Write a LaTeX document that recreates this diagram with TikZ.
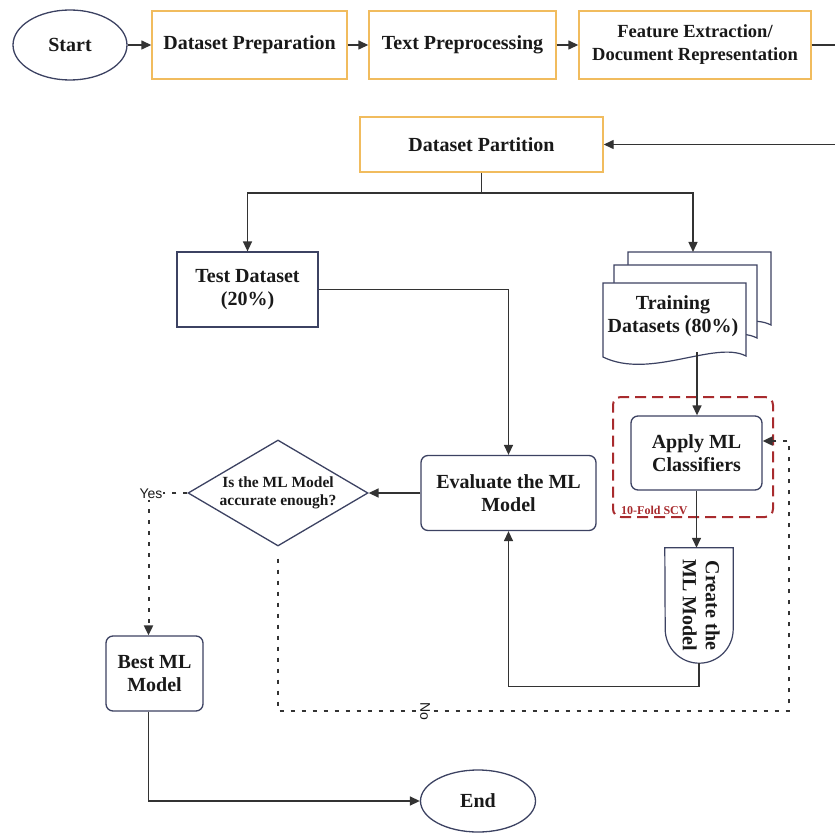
\documentclass[tikz,border=0pt]{standalone}
\usepackage{fontspec}
\setmainfont{Liberation Serif}
\setsansfont{Liberation Sans}
\usetikzlibrary{arrows.meta,shapes.geometric}

\definecolor{boxorange}{HTML}{F1BC5E}
\definecolor{boxnavy}{HTML}{3C4262}
\definecolor{lineg}{HTML}{333333}
\definecolor{cvred}{HTML}{A82B2E}

\begin{document}
\begin{tikzpicture}[
  x=1pt, y=-1pt,
  >={Triangle[length=10pt,width=9pt]},
  every node/.style={font=\fontsize{20}{23}\selectfont\bfseries, align=center, text=black!90},
  term/.style={ellipse, draw=boxnavy, line width=1.3pt, inner sep=0pt},
  stagebox/.style={draw=boxorange, line width=1.4pt, inner sep=0pt},
  databox/.style={draw=boxnavy, line width=1.2pt, inner sep=0pt},
  procbox/.style={draw=boxnavy, line width=1.3pt, rounded corners=7pt, inner sep=0pt},
  decision/.style={diamond, draw=boxnavy, line width=1.3pt, aspect=1.7, inner sep=0pt,
    font=\fontsize{15.5}{18}\selectfont\bfseries},
  arr/.style={->, draw=lineg, line width=1.4pt},
  dotarr/.style={->, draw=lineg, line width=2pt, dash pattern=on 4pt off 7pt},
  cvbox/.style={draw=cvred, line width=2pt, dash pattern=on 11pt off 6pt, rounded corners=8pt},
  branch/.style={font=\sffamily\fontsize{14}{16}\selectfont, fill=white, inner sep=1pt}
]
\useasboundingbox (0,0) rectangle (835,834);
\fill[white] (0,0) rectangle (835,834);

% top row
\node[term, minimum width=114pt, minimum height=70pt] (start) at (70,45) {Start};
\node[stagebox, minimum width=195pt, minimum height=68pt] (prep) at (249.5,45) {Dataset Preparation};
\node[stagebox, minimum width=187pt, minimum height=68pt] (textpre) at (462.5,45) {Text Preprocessing};
\node[stagebox, minimum width=232pt, minimum height=68pt,
      font=\fontsize{18.5}{23}\selectfont\bfseries] (feat) at (695,45) {Feature Extraction/\\Document Representation};

% partition
\node[stagebox, minimum width=243pt, minimum height=55pt] (part) at (481.5,144.5) {Dataset Partition};
\coordinate (split) at (478,193);

% test / training data
\node[databox, minimum width=141pt, minimum height=75pt] (test) at (247.5,289.5) {Test Dataset\\(20\%)};

\foreach \dx/\dy in {25/-31,11/-18,0/0}
  \draw[databox, fill=white, shift={(\dx,\dy)}] (603,283) -- (746,283) -- (746,356)
    .. controls (715,340) and (650,380) .. (603,357) -- cycle;
\node (train) at (673,316) {Training\\Datasets (80\%)};
\coordinate (traintop) at (693,252);
\coordinate (trainbot) at (697,352);

% cross validation
\node[cvbox, minimum width=160pt, minimum height=120pt] (scv) at (693,457) {};
\node[font=\fontsize{12}{14}\selectfont\bfseries, text=cvred, anchor=south west, inner sep=1pt]
  (scvlab) at ([xshift=8pt,yshift=2pt]scv.south west) {10-Fold SCV};
\node[procbox, minimum width=131pt, minimum height=74pt] (apply) at (696.5,453) {Apply ML\\Classifiers};

% model
\node[minimum width=68pt, minimum height=115pt, inner sep=0pt] (create) at (699,605.5)
  {\rotatebox{-90}{\begin{tabular}{@{}c@{}}Create the\\ML Model\end{tabular}}};
\draw[databox] (create.north west) -- (create.north east) -- ([yshift=34pt]create.south east)
  arc[start angle=0, end angle=-180, radius=34pt] -- cycle;

\node[procbox, minimum width=175pt, minimum height=75pt] (eval) at (508.5,493) {Evaluate the ML\\Model};
\node[decision, minimum width=180pt, minimum height=106pt] (dec) at (278,493) {Is the ML Model\\accurate enough?};
\node[procbox, minimum width=97pt, minimum height=75pt] (best) at (154.5,673.5) {Best ML\\Model};
\node[term, minimum width=115pt, minimum height=62pt] (end) at (478,801) {End};

% connectors
\draw[arr] (start.east) -- (prep.west);
\draw[arr] (prep.east) -- (textpre.west);
\draw[arr] (textpre.east) -- (feat.west);
\draw[arr] (feat.east) -- ++(40,0) |- (part.east);
\draw[arr] (part.south) -- (part.south|-split) -| (test.north);
\draw[arr] (part.south|-split) -| (traintop);
\draw[arr] (test.east) -| (eval.north);
\draw[arr] (trainbot) -- (trainbot|-apply.north);
\draw[arr] (apply.south) -- (apply.south|-create.north);
\draw[arr] (create.south) -- ++(0,23) -| (eval.south);
\draw[arr] (eval.west) -- (dec.east);

\draw[dotarr] (dec.west) -| ([xshift=-6pt]best.north);
\node[branch] (yeslab) at (151,494) {Yes};

\coordinate (noturn) at (789,711);
\draw[dotarr] ([yshift=-12pt]dec.south) |- (noturn) |- ([yshift=12pt]apply.east);
\node[branch, rotate=-90] (nolab) at (425,711) {No};

\draw[arr] ([xshift=-6pt]best.south) |- (end.west);

\end{tikzpicture}
\end{document}
